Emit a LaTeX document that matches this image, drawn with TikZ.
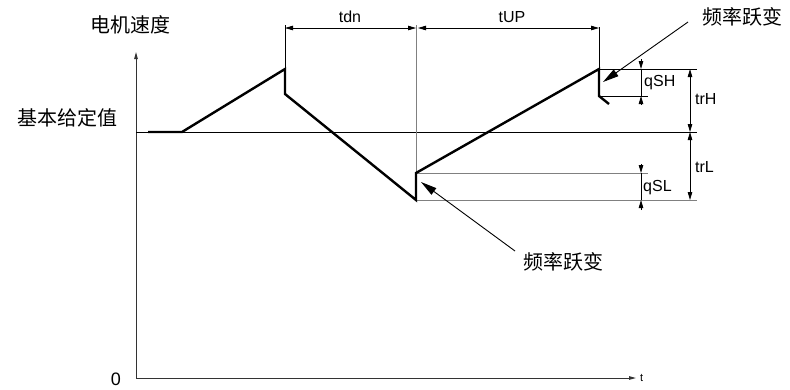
\documentclass[tikz,border=0pt]{standalone}
\usepackage{fontspec}
\setmainfont{Liberation Sans}
\newfontfamily\cjk{Noto Sans CJK SC}
\usetikzlibrary{arrows.meta}
\tikzset{
  axis/.style={draw=black!80, line width=1pt, -{Triangle[length=7pt,width=3.5pt]}},
  thin/.style={draw=black, line width=0.8pt},
  grayline/.style={draw=black!50, line width=1pt},
  curve/.style={draw=black, line width=2.4pt, line join=miter},
  dim/.style={draw=black, line width=0.8pt, {Triangle[length=8pt,width=4.5pt]}-{Triangle[length=8pt,width=4.5pt]}},
  dimtip/.style={draw=black, line width=0.8pt, -{Triangle[length=8pt,width=4.5pt]}},
  pointer/.style={draw=black, line width=0.9pt, -{Triangle[length=16pt,width=8pt]}},
  cn/.style={font=\cjk\fontsize{20}{22}\selectfont, inner sep=0pt},
  lat/.style={font=\fontsize{16}{18}\selectfont, inner sep=0pt},
}
\begin{document}
\begin{tikzpicture}[x=1pt,y=-1pt]
\useasboundingbox (0,0) rectangle (790,389);
% axes
\coordinate (O) at (136,378);
\coordinate (ytop) at (136,52);
\coordinate (xend) at (636,378);
\draw[axis] (O) -- (ytop);
\draw[axis] (O) -- (xend);
\node[lat, font=\fontsize{11}{13}\selectfont, anchor=west] (tlab) at (640,378) {t};
\node[lat, font=\fontsize{18}{20}\selectfont] (zero) at (116,379) {0};
\node[cn] (ylab) at (130,25) {电机速度};
\node[cn] (reflab) at (67,118) {基本给定值};
% reference line
\coordinate (r0) at (136,132);
\coordinate (r1) at (697,132);
\draw[thin] (r0) -- (r1);
% extension lines
\coordinate (e1t) at (285,25);
\coordinate (e2t) at (416,25);
\coordinate (e2b) at (416,200);
\coordinate (e3t) at (599,27);
% curve points
\coordinate (c0) at (148,132);
\coordinate (c1) at (182,132);
\coordinate (c2) at (285,69);
\coordinate (c3) at (285,94);
\coordinate (c4) at (416,200);
\coordinate (c5) at (416,173);
\coordinate (c6) at (599,69);
\coordinate (c7) at (599,96);
\coordinate (c8) at (609,104);
\draw[thin] (e1t) -- (c2);
\draw[grayline] (e2t) -- (e2b);
\draw[thin] (e3t) -- (c6);
% qSH / qSL lines
\coordinate (h1) at (697,69);
\coordinate (h2a) at (600,96);
\coordinate (h2b) at (648,96);
\coordinate (l1b) at (648,173);
\coordinate (l2b) at (697,200);
\draw[thin] (c6) -- (h1);
\draw[thin] (h2a) -- (h2b);
\draw[grayline] (c5) -- (l1b);
\draw[grayline] (c4) -- (l2b);
% curve
\draw[curve] (c0) -- (c1) -- (c2) -- (c3) -- (c4) -- (c5) -- (c6) -- (c7) -- (c8);
% time dimensions
\coordinate (d1) at (285,28);
\coordinate (d2) at (416,28);
\coordinate (d2b) at (418,28);
\coordinate (d3) at (599,28);
\draw[dim] (d1) -- (d2);
\draw[dim] (d2b) -- (d3);
\node[lat] (tdn) at (350,17) {tdn};
\node[lat] (tup) at (512,17) {tUP};
% qSH
\coordinate (qh0) at (641,59);
\coordinate (qh1) at (641,69);
\coordinate (qh2) at (641,96);
\coordinate (qh3) at (641,105);
\draw[dimtip] (qh0) -- (qh1);
\draw[thin] (qh1) -- (qh2);
\draw[dimtip] (qh3) -- (qh2);
\node[lat, anchor=west] (qsh) at (644,83) {qSH};
% qSL
\coordinate (ql0) at (641,164);
\coordinate (ql1) at (641,173);
\coordinate (ql2) at (641,200);
\coordinate (ql3) at (641,210);
\draw[dimtip] (ql0) -- (ql1);
\draw[thin] (ql1) -- (ql2);
\draw[dimtip] (ql3) -- (ql2);
\node[lat, anchor=west] (qsl) at (643,188) {qSL};
% trH / trL
\coordinate (th0) at (690,69);
\coordinate (th1) at (690,132);
\coordinate (tl1) at (690,200);
\draw[dim] (th0) -- (th1);
\draw[dim] (th1) -- (tl1);
\node[lat, anchor=west] (trh) at (695,99) {trH};
\node[lat, anchor=west] (trl) at (695,167) {trL};
% pointers
\node[cn] (jump1) at (742,17) {频率跃变};
\node[cn] (jump2) at (563,262) {频率跃变};
\coordinate (p1s) at (688,22);
\coordinate (p1e) at (603,82);
\coordinate (p2s) at (515,251);
\coordinate (p2e) at (421,182);
\draw[pointer] (p1s) -- (p1e);
\draw[pointer] (p2s) -- (p2e);
\end{tikzpicture}
\end{document}
